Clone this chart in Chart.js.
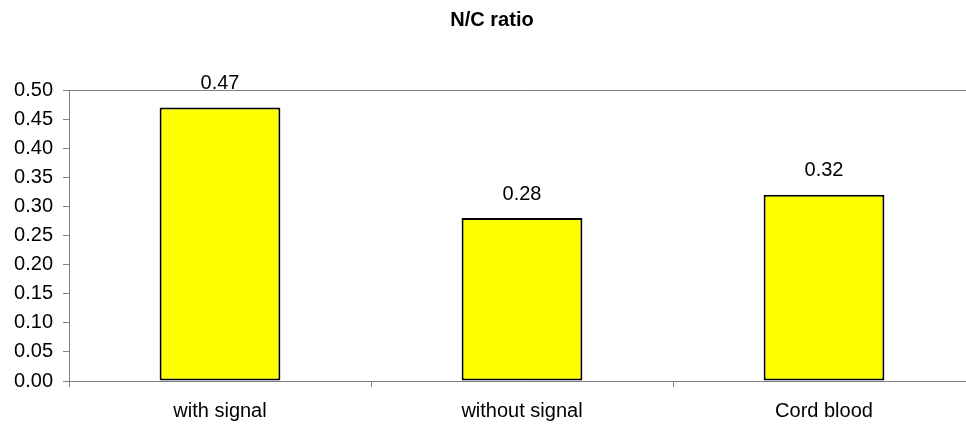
<!DOCTYPE html>
<html>
<head>
<meta charset="utf-8">
<title>N/C ratio</title>
<script src="https://cdn.jsdelivr.net/npm/chart.js@4"></script>
<style>
  html, body { margin: 0; padding: 0; background: #fff; overflow: hidden; }
  #wrap { width: 975px; height: 425px; }
</style>
</head>
<body>
<div id="wrap"><canvas id="chart" width="975" height="425"></canvas></div>
<script>
const categories = ['with signal', 'without signal', 'Cord blood'];
const ratioValues = [0.47, 0.28, 0.32];
const chartTitle = 'N/C ratio';

const FONT = '"Liberation Sans", Arial, sans-serif';
const AXIS_GREY = '#808080';

// Plot-area frame (top/right edges) and value labels above each bar
const frameAndLabels = {
  id: 'frameAndLabels',
  beforeDatasetsDraw(chart) {
    const { ctx, chartArea: a } = chart;
    ctx.save();
    ctx.strokeStyle = AXIS_GREY;
    ctx.lineWidth = 1;
    ctx.beginPath();
    ctx.moveTo(a.left, a.top + 0.5);
    ctx.lineTo(a.right - 0.5, a.top + 0.5);
    ctx.lineTo(a.right - 0.5, a.bottom);
    ctx.stroke();
    ctx.restore();
  },
  afterDatasetsDraw(chart) {
    const { ctx } = chart;
    const meta = chart.getDatasetMeta(0);
    const data = chart.data.datasets[0].data;
    ctx.save();
    ctx.fillStyle = '#000';
    ctx.font = '20px ' + FONT;
    ctx.textAlign = 'center';
    ctx.textBaseline = 'middle';
    meta.data.forEach((bar, i) => {
      ctx.fillText(data[i].toFixed(2), bar.x, bar.y - 24);
    });
    ctx.restore();
  }
};

new Chart(document.getElementById('chart'), {
  type: 'bar',
  data: {
    labels: categories,
    datasets: [{
      data: ratioValues,
      backgroundColor: '#FFFF00',
      borderColor: '#000000',
      borderWidth: 2,
      borderSkipped: false,
      categoryPercentage: 1.0,
      barPercentage: 0.4
    }]
  },
  options: {
    responsive: false,
    animation: false,
    devicePixelRatio: 1,
    layout: { padding: { left: 9, right: 0, top: 0, bottom: 0 } },
    plugins: {
      legend: { display: false },
      tooltip: { enabled: false },
      title: {
        display: true,
        text: chartTitle,
        color: '#000',
        font: { family: FONT, size: 20, weight: 'bold' },
        padding: { top: 8, bottom: 58 }
      }
    },
    scales: {
      x: {
        afterFit(scale) { scale.height = 44; },
        grid: {
          display: true,
          drawOnChartArea: false,
          drawTicks: true,
          tickLength: 6,
          color: AXIS_GREY,
          offset: true
        },
        border: { display: true, color: AXIS_GREY, width: 1 },
        ticks: {
          color: '#000',
          font: { family: FONT, size: 20 },
          padding: 12,
          maxRotation: 0
        }
      },
      y: {
        afterFit(scale) { scale.width = 60; },
        min: 0,
        max: 0.5,
        grid: {
          display: true,
          drawOnChartArea: false,
          drawTicks: true,
          tickLength: 6,
          color: AXIS_GREY
        },
        border: { display: true, color: AXIS_GREY, width: 1 },
        ticks: {
          stepSize: 0.05,
          color: '#000',
          font: { family: FONT, size: 20 },
          padding: 10,
          callback: v => Number(v).toFixed(2)
        }
      }
    }
  },
  plugins: [frameAndLabels]
});
</script>
</body>
</html>
